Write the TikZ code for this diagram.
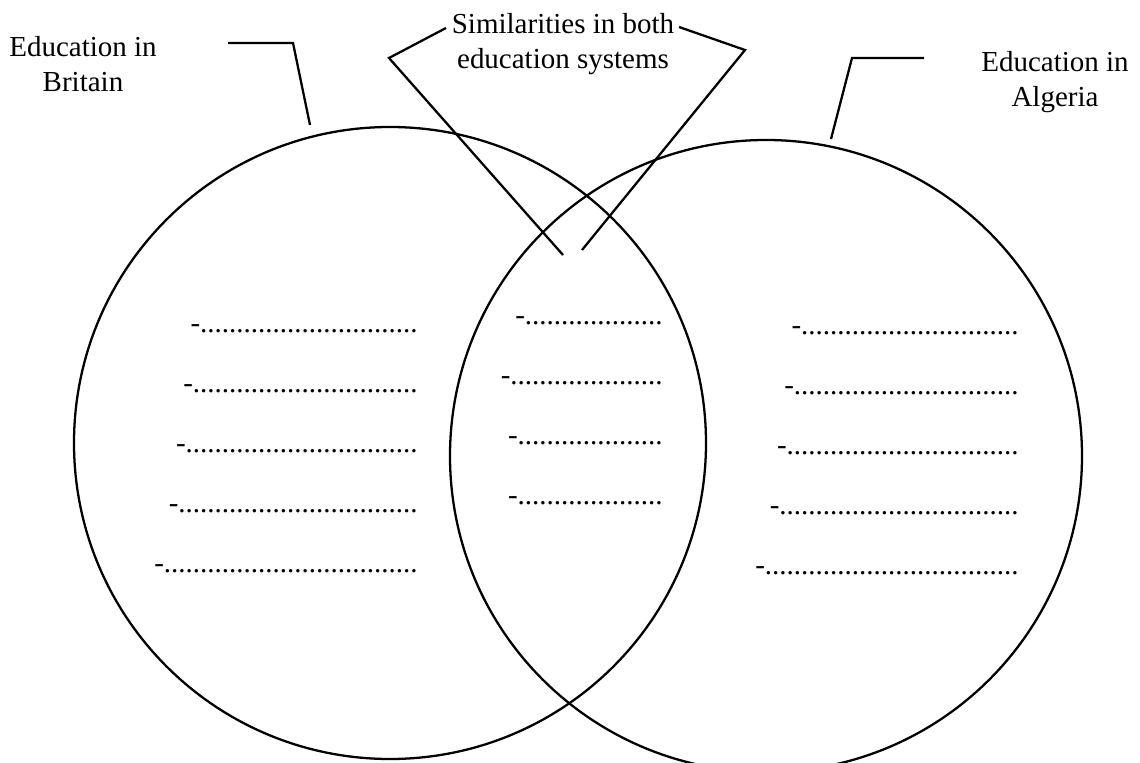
\documentclass[tikz,border=0pt]{standalone}
\usepackage{fontspec}
\setmainfont{Liberation Serif}
\usetikzlibrary{positioning}

\newcommand{\dotrow}[1]{-\foreach\k in {1,...,#1}{.}}

\begin{document}
\begin{tikzpicture}[x=0.02cm,y=-0.02cm,
  label/.style={font=\fontsize{16.5}{20}\selectfont,align=center,inner sep=0pt},
  rowtext/.style={font=\fontsize{16.5}{20}\selectfont,inner sep=0pt,anchor=base east},
  ring/.style={draw=black,line width=1.3pt},
  leader/.style={draw=black,line width=1.3pt}]
\clip (0,0) rectangle (1140,763);

% the two sets
\draw[ring] (390,443) circle (316);
\draw[ring] (766,456) circle (316);

% labels
\node[label] (bri) at (83,64.5) {Education in\\Britain};
\node[label] (alg) at (1055,82.5) {Education in\\Algeria};
\node[label] (sim) at (563,44.5) {Similarities in both\\education systems};

% leader lines
\coordinate (bl1) at (228,43);
\coordinate (bl2) at (293,43);
\coordinate (bl3) at (310,125);
\draw[leader] (bl1) -- (bl2) -- (bl3);

\coordinate (al1) at (924,58);
\coordinate (al2) at (852,58);
\coordinate (al3) at (831,139);
\draw[leader] (al1) -- (al2) -- (al3);

\coordinate (sl1) at (446,28);
\coordinate (sl2) at (389,58);
\coordinate (sl3) at (563,255);
\coordinate (sr1) at (679,27);
\coordinate (sr2) at (745,50);
\coordinate (sr3) at (582,250);
\draw[leader] (sl1) -- (sl2) -- (sl3);
\draw[leader] (sr1) -- (sr2) -- (sr3);

% rows, Britain
\node[rowtext] (b1) at (418,333) {\dotrow{30}};
\node[rowtext] (b2) at (418,393) {\dotrow{31}};
\node[rowtext] (b3) at (418,453) {\dotrow{32}};
\node[rowtext] (b4) at (418,513) {\dotrow{33}};
\node[rowtext] (b5) at (418,573) {\dotrow{35}};

% rows, both
\node[rowtext] (s1) at (663,325) {\dotrow{19}};
\node[rowtext] (s2) at (663,385) {\dotrow{21}};
\node[rowtext] (s3) at (663,445) {\dotrow{20}};
\node[rowtext] (s4) at (663,505) {\dotrow{20}};

% rows, Algeria
\node[rowtext] (a1) at (1019,335) {\dotrow{30}};
\node[rowtext] (a2) at (1019,395) {\dotrow{31}};
\node[rowtext] (a3) at (1019,455) {\dotrow{32}};
\node[rowtext] (a4) at (1019,515) {\dotrow{33}};
\node[rowtext] (a5) at (1019,575) {\dotrow{35}};

\end{tikzpicture}
\end{document}
